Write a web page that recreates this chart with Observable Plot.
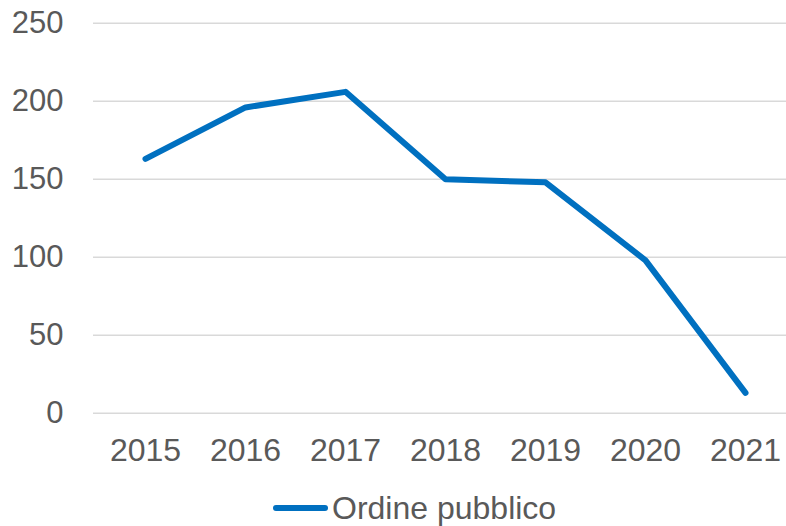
<!DOCTYPE html>
<html>
<head>
<meta charset="utf-8">
<script src="https://cdn.jsdelivr.net/npm/d3@7"></script>
<script src="https://cdn.jsdelivr.net/npm/@observablehq/plot@0.6"></script>
<style>
  html, body { margin: 0; padding: 0; background: #fff; overflow: hidden; }
  body { width: 786px; height: 526px; font-family: "Liberation Sans", Arial, sans-serif; }
  #legend { display: flex; align-items: center; height: 32px; margin-top: 12px; padding-left: 273px; color: #595959; font-size: 32px; line-height: 32px; }
  #legend .sw { width: 55px; height: 6px; border-radius: 3px; background: #0070C0; margin-right: 4px; }
</style>
</head>
<body>
<div id="chart"></div>
<div id="legend"><span class="sw"></span><span>Ordine pubblico</span></div>
<script>
const years = ["2015", "2016", "2017", "2018", "2019", "2020", "2021"];
const values = [163, 196, 206, 150, 148, 98, 13];
const yTicks = [0, 50, 100, 150, 200, 250];
const seriesName = "Ordine pubblico";

const data = years.map((y, i) => ({year: y, value: values[i]}));

const chart = Plot.plot({
  width: 786,
  height: 480,
  marginLeft: 93,
  marginRight: -10.5,
  marginTop: 22.7,
  marginBottom: 67.3,
  style: {fontFamily: "'Liberation Sans', Arial, sans-serif", fontSize: "31px", color: "#595959", background: "#fff", overflow: "visible"},
  x: {type: "point", domain: years, padding: 0.5, label: null},
  y: {domain: [0, 250], ticks: yTicks, label: null},
  marks: [
    Plot.ruleY(yTicks, {stroke: "#d9d9d9", strokeWidth: 1.4}),
    Plot.axisY({ticks: yTicks, tickSize: 0, tickPadding: 30, label: null, fontSize: 31}),
    Plot.axisX({tickSize: 0, tickPadding: 25, label: null, fontSize: 32}),
    Plot.line(data, {x: "year", y: "value", stroke: "#0070C0", strokeWidth: 6, strokeLinecap: "round", strokeLinejoin: "round"})
  ]
});
document.getElementById("chart").appendChild(chart);
</script>
</body>
</html>
